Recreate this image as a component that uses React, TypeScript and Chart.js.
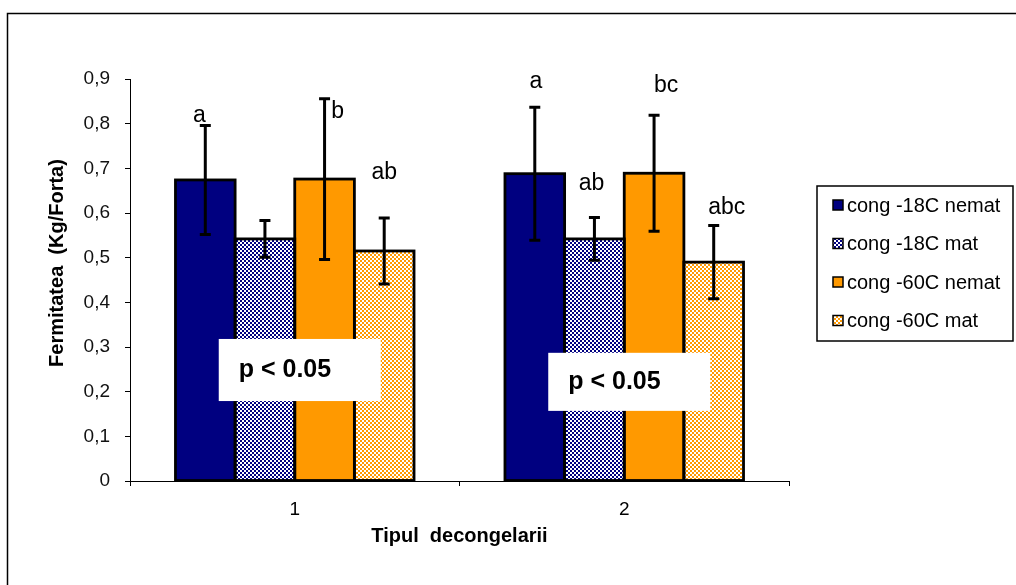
import React, { useEffect, useRef } from "react";
import { Chart, registerables } from "chart.js";

Chart.register(...registerables);

// ---------- data ----------
const categories = ["1", "2"];
const seriesNames = ["cong -18C nemat", "cong -18C mat", "cong -60C nemat", "cong -60C mat"];
const nemat18 = [0.674, 0.688];
const mat18 = [0.542, 0.542];
const nemat60 = [0.676, 0.689];
const mat60 = [0.515, 0.49];
const errNemat18 = [0.122, 0.149];
const errMat18 = [0.041, 0.048];
const errNemat60 = [0.18, 0.13];
const errMat60 = [0.074, 0.082];
const lettersNemat18 = ["a", "a"];
const lettersMat18 = ["", "ab"];
const lettersNemat60 = ["b", "bc"];
const lettersMat60 = ["ab", "abc"];
const yTicksMin = 0;
const yTicksMax = 0.9;
const yTicksStep = 0.1;
const pText = "p < 0.05";
const yTitle = "Fermitatea  (Kg/Forta)";
const xTitle = "Tipul  decongelarii";

// ---------- annotation placement (value space for y, px offsets for x) ----------
const letterY = [
  [0.819, 0.895],
  [0, 0.665],
  [0.828, 0.884],
  [0.69, 0.611],
];
const letterDx = [
  [-6, 1],
  [0, -3],
  [13, 12],
  [0, 13],
];
const pBoxTop = [0.318, 0.287];
const pBoxBottom = [0.179, 0.157];

const NAVY = "#000080";
const ORANGE = "#FF9900";

function makePattern(color: string): CanvasPattern | string {
  const c = document.createElement("canvas");
  c.width = 4;
  c.height = 4;
  const g = c.getContext("2d");
  if (!g) return color;
  g.fillStyle = "#ffffff";
  g.fillRect(0, 0, 4, 4);
  g.fillStyle = color;
  g.fillRect(0, 0, 2, 2);
  g.fillRect(2, 2, 2, 2);
  const p = g.createPattern(c, "repeat");
  return p || color;
}

export default function App() {
  const ref = useRef<HTMLCanvasElement | null>(null);

  useEffect(() => {
    const canvas = ref.current;
    if (!canvas) return;
    const navyPat = makePattern(NAVY);
    const orangePat = makePattern(ORANGE);
    const fills: any[] = [NAVY, navyPat, ORANGE, orangePat];
    const values = [nemat18, mat18, nemat60, mat60];
    const errs = [errNemat18, errMat18, errNemat60, errMat60];
    const letters = [lettersNemat18, lettersMat18, lettersNemat60, lettersMat60];

    const overlay = {
      id: "overlay",
      afterDatasetsDraw(chart: any) {
        const ctx = chart.ctx as CanvasRenderingContext2D;
        const ys = chart.scales.y;
        const xs = chart.scales.x;
        ctx.save();
        // bar outlines (centred on the bar edges so shared edges stay one line wide)
        ctx.strokeStyle = "#000";
        ctx.lineWidth = 2.8;
        for (let d = 0; d < values.length; d++) {
          const meta = chart.getDatasetMeta(d);
          meta.data.forEach((bar: any) => {
            const p = bar.getProps(["x", "y", "base", "width"], true);
            ctx.strokeRect(p.x - p.width / 2, p.y, p.width, p.base - p.y);
          });
        }
        // error bars
        ctx.lineWidth = 3;
        for (let d = 0; d < values.length; d++) {
          const meta = chart.getDatasetMeta(d);
          meta.data.forEach((bar: any, i: number) => {
            const v = values[d][i];
            const e = errs[d][i];
            const top = ys.getPixelForValue(v + e);
            const bot = ys.getPixelForValue(v - e);
            const x = bar.x;
            ctx.beginPath();
            ctx.moveTo(x, top);
            ctx.lineTo(x, bot);
            ctx.moveTo(x - 5.5, top);
            ctx.lineTo(x + 5.5, top);
            ctx.moveTo(x - 5.5, bot);
            ctx.lineTo(x + 5.5, bot);
            ctx.stroke();
          });
        }
        // letters
        ctx.fillStyle = "#000";
        ctx.font = "23px 'Liberation Sans', Arial, sans-serif";
        ctx.textAlign = "center";
        ctx.textBaseline = "middle";
        for (let d = 0; d < values.length; d++) {
          const meta = chart.getDatasetMeta(d);
          meta.data.forEach((bar: any, i: number) => {
            const t = letters[d][i];
            if (!t) return;
            ctx.fillText(t, bar.x + letterDx[d][i], ys.getPixelForValue(letterY[d][i]));
          });
        }
        // p boxes
        for (let i = 0; i < categories.length; i++) {
          const cx = xs.getPixelForValue(i);
          const t = ys.getPixelForValue(pBoxTop[i]);
          const b = ys.getPixelForValue(pBoxBottom[i]);
          const l = cx - 76;
          const r = cx + 86;
          ctx.fillStyle = "#ffffff";
          ctx.fillRect(l, t, r - l, b - t);
          ctx.fillStyle = "#000";
          ctx.font = "bold 25px 'Liberation Sans', Arial, sans-serif";
          ctx.textAlign = "left";
          ctx.textBaseline = "middle";
          ctx.fillText(pText, l + 20, (t + b) / 2);
        }
        ctx.restore();
      },
      afterDraw(chart: any) {
        const ctx = chart.ctx as CanvasRenderingContext2D;
        const area = chart.chartArea;
        ctx.save();
        // outer frame (top and left edges visible)
        ctx.strokeStyle = "#000";
        ctx.lineWidth = 1.5;
        ctx.beginPath();
        ctx.moveTo(7.5, 585);
        ctx.lineTo(7.5, 13.5);
        ctx.lineTo(1016, 13.5);
        ctx.stroke();
        // axis titles
        ctx.fillStyle = "#000";
        ctx.font = "bold 20px 'Liberation Sans', Arial, sans-serif";
        ctx.textAlign = "center";
        ctx.textBaseline = "middle";
        ctx.fillText(xTitle, (area.left + area.right) / 2, 536);
        ctx.save();
        ctx.translate(57, 263);
        ctx.rotate(-Math.PI / 2);
        ctx.fillText(yTitle, 0, 0);
        ctx.restore();
        // legend
        const lx = 817, ly = 186, lw = 196, lh = 155;
        ctx.fillStyle = "#fff";
        ctx.fillRect(lx, ly, lw, lh);
        ctx.strokeStyle = "#000";
        ctx.lineWidth = 1.5;
        ctx.strokeRect(lx, ly, lw, lh);
        ctx.font = "20px 'Liberation Sans', Arial, sans-serif";
        ctx.textAlign = "left";
        ctx.textBaseline = "middle";
        for (let k = 0; k < seriesNames.length; k++) {
          const cy = 205 + k * 38.5;
          ctx.fillStyle = fills[k];
          ctx.fillRect(833, cy - 5, 10, 10);
          ctx.lineWidth = 1.5;
          ctx.strokeStyle = "#000";
          ctx.strokeRect(833, cy - 5, 10, 10);
          ctx.fillStyle = "#000";
          ctx.fillText(seriesNames[k], 847, cy + 1);
        }
        ctx.restore();
      },
    };

    const chart = new Chart(canvas, {
      type: "bar",
      data: {
        labels: categories,
        datasets: values.map((arr, k) => ({
          label: seriesNames[k],
          data: arr,
          backgroundColor: fills[k],
          borderWidth: 0,
          categoryPercentage: 0.724,
          barPercentage: 1,
        })),
      },
      options: {
        responsive: false,
        animation: false,
        devicePixelRatio: 1,
        layout: { padding: { top: 79, right: 227, bottom: 0, left: 0 } },
        plugins: {
          legend: { display: false },
          tooltip: { enabled: false },
          title: { display: false },
        },
        scales: {
          x: {
            afterFit: (s: any) => {
              s.height = 104;
            },
            grid: {
              display: true,
              drawOnChartArea: false,
              drawTicks: true,
              tickLength: 5,
              color: "#000",
              offset: true,
            },
            border: { display: true, color: "#000", width: 1 },
            ticks: {
              color: "#000",
              padding: 12,
              font: { family: "'Liberation Sans', Arial, sans-serif", size: 19 },
            },
          },
          y: {
            min: yTicksMin,
            max: yTicksMax,
            afterFit: (s: any) => {
              s.width = 130;
            },
            grid: {
              display: true,
              drawOnChartArea: false,
              drawTicks: true,
              tickLength: 5,
              color: "#000",
            },
            border: { display: true, color: "#000", width: 1 },
            ticks: {
              stepSize: yTicksStep,
              color: "#111",
              padding: 15,
              font: { family: "'Liberation Sans', Arial, sans-serif", size: 19 },
              callback: (v: any) => {
                const n = Number(v);
                return Math.abs(n) < 1e-9 ? "0" : n.toFixed(1).replace(".", ",");
              },
            },
          },
        },
      },
      plugins: [overlay],
    });
    return () => chart.destroy();
  }, []);

  return (
    <div style={{ position: "absolute", left: 0, top: 0, width: 1016, height: 585, background: "#fff" }}>
      <canvas ref={ref} width={1016} height={585} style={{ display: "block", width: 1016, height: 585 }} />
    </div>
  );
}
